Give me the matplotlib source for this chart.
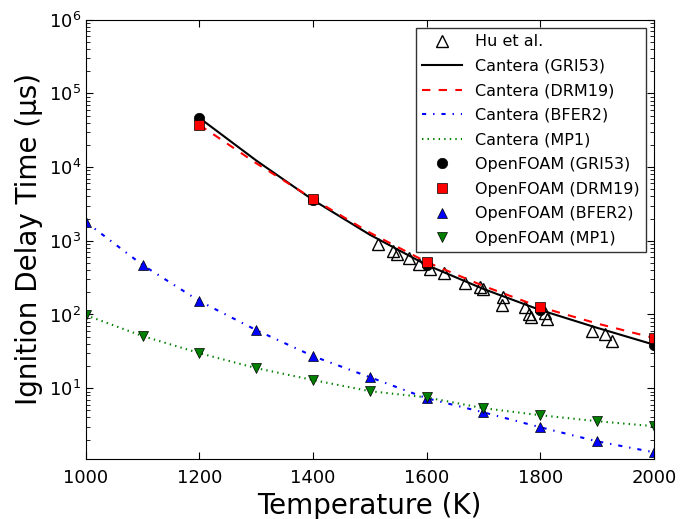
import numpy as np
import matplotlib
matplotlib.use("Agg")
import matplotlib.pyplot as plt

plt.rcParams["lines.scale_dashes"] = False
plt.rcParams["lines.dashed_pattern"] = [6, 6]
plt.rcParams["lines.dashdot_pattern"] = [3, 5, 1, 5]
plt.rcParams["lines.dotted_pattern"] = [1, 3]

# Hu et al. experimental data
hu_T = [1514, 1540, 1548, 1569, 1586, 1606, 1630, 1667, 1694, 1699,
        1734, 1732, 1773, 1780, 1783, 1808, 1812, 1891, 1915, 1926]
hu_tau = [906, 726, 662, 584, 484, 414, 365, 267, 236, 221,
          172, 134, 126, 101, 92, 105, 87, 59, 54, 44]

# Cantera / OpenFOAM temperatures
T_high = [1200, 1300, 1400, 1500, 1600, 1700, 1800, 1900, 2000]
T_full = [1000, 1100, 1200, 1300, 1400, 1500, 1600, 1700, 1800, 1900, 2000]
T_of_high = [1200, 1400, 1600, 1800, 2000]

cantera_gri53 = [46500, 12300, 3580, 1210, 470, 222, 115, 66, 39]
cantera_drm19 = [37400, 11300, 3700, 1290, 515, 244, 126, 75.5, 48]
cantera_bfer2 = [1800, 469, 152, 61.4, 27.2, 14.1, 7.3, 4.7, 2.95, 1.9, 1.35]
cantera_mp1 = [98, 51, 29.9, 18.7, 12.9, 9.1, 7.5, 5.35, 4.3, 3.56, 3.05]

of_gri53 = [46500, 3580, 470, 115, 39]
of_drm19 = [37400, 3700, 515, 126, 48]
of_bfer2 = [1800, 469, 152, 61.4, 27.2, 14.1, 7.3, 4.7, 2.95, 1.9, 1.35]
of_mp1 = [98, 51, 29.9, 18.7, 12.9, 9.1, 7.5, 5.35, 4.3, 3.56, 3.05]

fig = plt.figure(figsize=(6.81, 5.19), dpi=100)
ax = fig.add_axes([0.126, 0.116, 0.834, 0.846])

ax.semilogy(hu_T, hu_tau, "^", ms=8, mfc="none", mec="k", mew=1.0, label="Hu et al.")
ax.semilogy(T_high, cantera_gri53, "k-", lw=1.5, label="Cantera (GRI53)")
ax.semilogy(T_high, cantera_drm19, "r--", lw=1.5, label="Cantera (DRM19)")
ax.semilogy(T_full, cantera_bfer2, "b-.", lw=1.5, label="Cantera (BFER2)")
ax.semilogy(T_full, cantera_mp1, "g:", lw=1.5, label="Cantera (MP1)")
ax.semilogy(T_of_high, of_gri53, "ko", ms=7.5, mec="k", mew=0.5, label="OpenFOAM (GRI53)")
ax.semilogy(T_of_high, of_drm19, "rs", ms=7.5, mec="k", mew=0.5, label="OpenFOAM (DRM19)")
ax.semilogy(T_full, of_bfer2, "b^", ms=7.5, mec="k", mew=0.5, label="OpenFOAM (BFER2)")
ax.semilogy(T_full, of_mp1, "gv", ms=7.5, mec="k", mew=0.5, label="OpenFOAM (MP1)")

ax.set_xlim(1000, 2000)
ax.set_ylim(1.1, 1e6)
ax.set_xticks([1000, 1200, 1400, 1600, 1800, 2000])
ax.tick_params(which="both", direction="in", top=True, right=True, labelsize=13)
ax.tick_params(which="major", length=5)
ax.tick_params(which="minor", length=3)
ax.tick_params(axis="x", pad=7)

ax.set_xlabel("Temperature (K)", fontsize=20)
ax.set_ylabel("Ignition Delay Time (μs)", fontsize=20)

leg = ax.legend(loc="upper right", fontsize=11.5, numpoints=1, fancybox=False,
                handlelength=2.5, labelspacing=0.6, borderaxespad=0.5)
leg.get_frame().set_edgecolor("k")
leg.get_frame().set_linewidth(1.0)

plt.savefig("out.png", dpi=100)
